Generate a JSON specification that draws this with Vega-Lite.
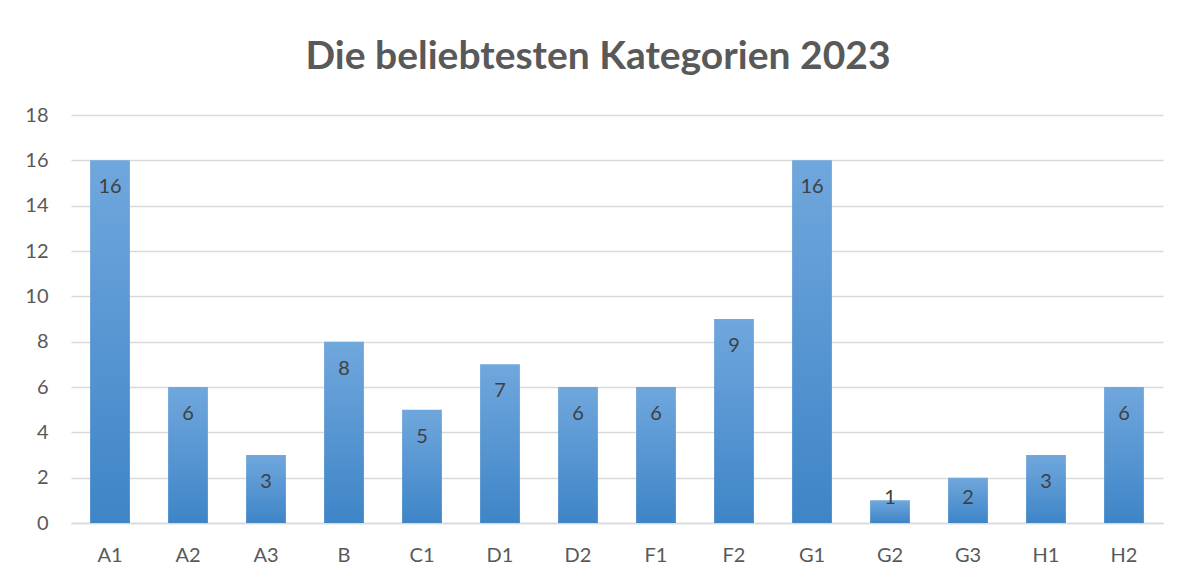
{
  "$schema": "https://vega.github.io/schema/vega-lite/v6.json",
  "width": 1092,
  "height": 408,
  "autosize": {"type": "none"},
  "padding": {"left": 71, "top": 115, "right": 22, "bottom": 55},
  "background": "white",
  "title": {
    "text": "Die beliebtesten Kategorien 2023",
    "font": "Lato",
    "fontSize": 39,
    "fontWeight": "bold",
    "color": "#595959",
    "anchor": "middle",
    "baseline": "alphabetic",
    "offset": -3,
    "dx": -19
  },
  "config": {
    "view": {"stroke": null},
    "font": "Lato"
  },
  "data": {
    "values": [
      {"category": "A1", "value": 16},
      {"category": "A2", "value": 6},
      {"category": "A3", "value": 3},
      {"category": "B", "value": 8},
      {"category": "C1", "value": 5},
      {"category": "D1", "value": 7},
      {"category": "D2", "value": 6},
      {"category": "F1", "value": 6},
      {"category": "F2", "value": 9},
      {"category": "G1", "value": 16},
      {"category": "G2", "value": 1},
      {"category": "G3", "value": 2},
      {"category": "H1", "value": 3},
      {"category": "H2", "value": 6}
    ]
  },
  "encoding": {
    "x": {
      "field": "category",
      "type": "nominal",
      "sort": null,
      "scale": {"paddingInner": 0.49, "paddingOuter": 0.245},
      "axis": {
        "title": null,
        "labelAngle": 0,
        "labelFont": "Lato",
        "labelFontSize": 20,
        "labelColor": "#595959",
        "labelPadding": 22,
        "ticks": false,
        "domainColor": "#d9d9d9",
        "domainWidth": 1.5
      }
    }
  },
  "layer": [
    {
      "mark": {
        "type": "bar",
        "color": {
          "gradient": "linear",
          "x1": 0, "y1": 0, "x2": 0, "y2": 1,
          "stops": [
            {"offset": 0, "color": "#70a7dd"},
            {"offset": 1, "color": "#3e85c7"}
          ]
        }
      },
      "encoding": {
        "y": {
          "field": "value",
          "type": "quantitative",
          "scale": {"domain": [0, 18], "nice": false},
          "axis": {
            "title": null,
            "values": [0, 2, 4, 6, 8, 10, 12, 14, 16, 18],
            "labelFont": "Lato",
            "labelFontSize": 20,
            "labelColor": "#595959",
            "labelPadding": 23,
            "ticks": false,
            "domain": false,
            "gridColor": "#d9d9d9",
            "gridWidth": 1.5
          }
        }
      }
    },
    {
      "transform": [
        {"calculate": "max(datum.value - 1.19, 1.1)", "as": "labelPos"}
      ],
      "mark": {
        "type": "text",
        "font": "Lato",
        "fontSize": 20,
        "color": "#404040",
        "baseline": "middle",
        "align": "center"
      },
      "encoding": {
        "y": {"field": "labelPos", "type": "quantitative", "scale": {"domain": [0, 18], "nice": false}},
        "text": {"field": "value", "type": "quantitative"}
      }
    }
  ]
}
